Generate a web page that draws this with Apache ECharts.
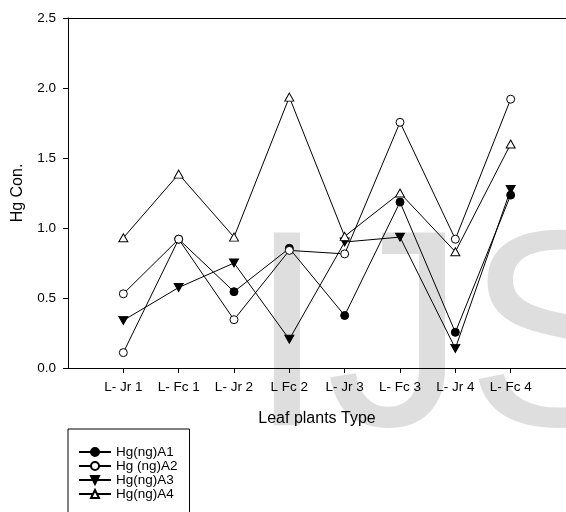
<!DOCTYPE html>
<html>
<head>
<meta charset="utf-8">
<script src="https://cdn.jsdelivr.net/npm/echarts@6/dist/echarts.min.js"></script>
<style>
html,body{margin:0;padding:0;background:#fff;}
#chart{width:566px;height:512px;}
</style>
</head>
<body>
<div id="chart"></div>
<script>
var categories = ['L- Jr 1', 'L- Fc 1', 'L- Jr 2', 'L Fc 2', 'L- Jr 3', 'L- Fc 3', 'L- Jr 4', 'L- Fc 4'];
var seriesNames = ['Hg(ng)A1', 'Hg (ng)A2', 'Hg(ng)A3', 'Hg(ng)A4'];
var hgA1 = [0.11, 0.92, 0.545, 0.855, 0.375, 1.185, 0.255, 1.235];
var hgA2 = [0.53, 0.92, 0.345, 0.84, 0.815, 1.755, 0.92, 1.92];
var hgA3 = [0.34, 0.575, 0.75, 0.205, 0.9, 0.935, 0.14, 1.275];
var hgA4 = [0.93, 1.385, 0.935, 1.935, 0.94, 1.25, 0.83, 1.6];
var yTicks = [0, 0.5, 1.0, 1.5, 2.0, 2.5];

var FONT = '"Liberation Sans", Arial, sans-serif';
var catPositions = categories.map(function (c, i) { return i + 1; });

function toPoints(values) {
  return values.map(function (v, i) { return [i + 1, v]; });
}

var a1Data = toPoints(hgA1);
// first A1 marker appears hollow in the reference
a1Data[0] = { value: a1Data[0], itemStyle: { color: '#fff' } };

function lineSeries(name, data, symbol, size, fill) {
  return {
    name: name,
    type: 'line',
    data: data,
    symbol: symbol,
    symbolSize: size,
    showSymbol: true,
    lineStyle: { color: '#000', width: 1 },
    itemStyle: { color: fill, borderColor: '#000', borderWidth: 1 },
    emphasis: { disabled: true },
    animation: false,
    z: 3
  };
}

var chart = echarts.init(document.getElementById('chart'), null, { renderer: 'canvas' });
chart.setOption({
  backgroundColor: '#fff',
  animation: false,
  graphic: [{
    type: 'text',
    z: -1,
    silent: true,
    style: {
      text: 'IJS',
      x: 248,
      y: 348,
      verticalAlign: 'middle',
      font: '280px ' + FONT,
      fill: '#dedede'
    }
  }],
  grid: { left: 68, right: -2, top: 18, bottom: 144 },
  legend: {
    type: 'plain',
    orient: 'vertical',
    left: 68,
    top: 429,
    height: 140,
    padding: [16, 12, 24, 10],
    borderColor: '#000',
    borderWidth: 1,
    itemWidth: 32,
    itemHeight: 10,
    itemGap: 0,
    textStyle: { fontFamily: FONT, fontSize: 13.5, color: '#000', lineHeight: 13.4 },
    data: seriesNames
  },
  xAxis: [{
    type: 'value',
    min: 0,
    max: 9,
    interval: 1,
    name: 'Leaf plants Type',
    nameLocation: 'middle',
    nameGap: 43,
    nameTextStyle: { fontFamily: FONT, fontSize: 16, color: '#000' },
    axisLine: { show: true, lineStyle: { color: '#000', width: 1 } },
    axisTick: { show: true, inside: false, length: 5, lineStyle: { color: '#000' }, customValues: catPositions },
    axisLabel: {
      customValues: catPositions,
      margin: 12,
      fontFamily: FONT, fontSize: 13.5, color: '#000',
      formatter: function (v) { return categories[Math.round(v) - 1] || ''; }
    },
    splitLine: { show: false }
  }, {
    type: 'value',
    position: 'top',
    min: 0,
    max: 9,
    axisLine: { show: true, onZero: false, lineStyle: { color: '#000', width: 1 } },
    axisTick: { show: false },
    axisLabel: { show: false },
    splitLine: { show: false }
  }],
  yAxis: {
    type: 'value',
    min: 0,
    max: 2.5,
    interval: 0.5,
    name: 'Hg Con.',
    nameLocation: 'middle',
    nameGap: 42,
    nameRotate: 90,
    nameTextStyle: { fontFamily: FONT, fontSize: 16, color: '#000' },
    axisLine: { show: true, lineStyle: { color: '#000', width: 1 } },
    axisTick: { show: true, inside: false, length: 5, lineStyle: { color: '#000' }, customValues: yTicks },
    axisLabel: {
      margin: 12,
      fontFamily: FONT, fontSize: 13.5, color: '#000',
      formatter: function (v) { return v.toFixed(1); }
    },
    splitLine: { show: false }
  },
  series: [
    lineSeries(seriesNames[0], a1Data, 'circle', 8, '#000'),
    lineSeries(seriesNames[1], toPoints(hgA2), 'circle', 8, '#fff'),
    lineSeries(seriesNames[2], toPoints(hgA3), 'path://M0,0L10,0L5,8.66Z', [9, 8], '#000'),
    lineSeries(seriesNames[3], toPoints(hgA4), 'triangle', [9, 8], '#fff')
  ]
});
</script>
</body>
</html>
